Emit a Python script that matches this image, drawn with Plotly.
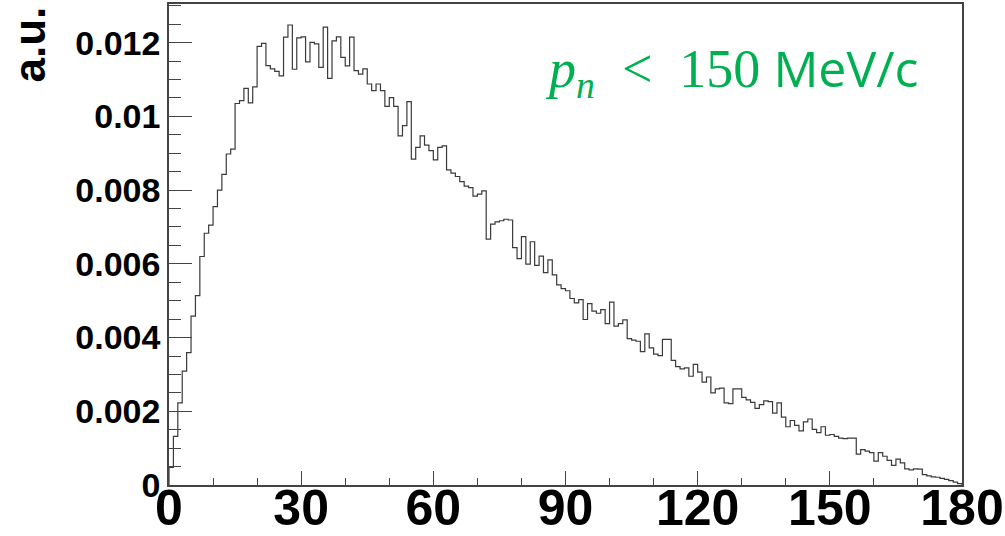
import plotly.graph_objects as go

# ---- data ----
bin_edges = list(range(0, 181))  # 1-unit bins from 0 to 180
values_milli = [
    0.48, 1.32, 2.23, 3.09, 3.59, 4.58, 5.14, 6.20, 6.83, 7.05,
    7.55, 8.00, 8.43, 8.98, 9.11, 10.35, 10.43, 10.76, 10.37, 10.80,
    11.90, 11.98, 11.38, 11.29, 11.22, 11.10, 12.15, 12.48, 11.28, 12.13,
    12.16, 11.48, 12.01, 11.97, 11.33, 12.42, 11.03, 12.05, 12.16, 11.60,
    11.37, 12.15, 11.24, 11.15, 11.29, 10.88, 10.70, 10.88, 10.70, 10.27,
    10.51, 10.27, 9.47, 9.75, 10.40, 8.84, 9.16, 9.47, 9.22, 9.07,
    8.82, 9.16, 9.20, 8.55, 8.46, 8.37, 8.23, 8.11, 8.07, 7.84,
    7.89, 7.98, 6.67, 7.08, 7.14, 7.17, 7.21, 7.19, 6.44, 6.14,
    6.74, 5.99, 6.60, 5.96, 6.21, 5.76, 6.11, 5.70, 5.43, 5.33,
    5.27, 5.06, 4.94, 5.03, 4.49, 4.92, 4.72, 4.66, 4.76, 4.38,
    4.96, 4.31, 4.38, 4.48, 3.97, 3.93, 3.90, 3.62, 4.10, 3.72,
    3.55, 3.51, 3.95, 3.95, 3.38, 3.21, 3.15, 3.18, 2.95, 3.27,
    3.06, 2.79, 2.93, 2.50, 2.61, 2.63, 2.23, 2.21, 2.61, 2.61,
    2.38, 2.31, 2.24, 2.08, 2.18, 2.28, 2.26, 1.95, 2.23, 1.84,
    1.58, 1.75, 1.62, 1.47, 1.71, 1.79, 1.51, 1.42, 1.58, 1.35,
    1.37, 1.32, 1.27, 1.26, 1.27, 1.27, 0.84, 0.96, 0.92, 0.88,
    0.65, 0.88, 0.78, 0.67, 0.53, 0.70, 0.60, 0.44, 0.41, 0.44,
    0.43, 0.28, 0.25, 0.22, 0.21, 0.18, 0.15, 0.12, 0.08, 0.04,
]
values = [v * 1e-3 for v in values_milli]

x_tick_vals = [0, 30, 60, 90, 120, 150, 180]
x_tick_text = ["0", "30", "60", "90", "120", "150", "180"]
y_tick_vals = [0, 0.002, 0.004, 0.006, 0.008, 0.010, 0.012]
y_tick_text = ["0", "0.002", "0.004", "0.006", "0.008", "0.01", "0.012"]

y_title = "a.u."
label_html = ('<span style="font-family:\'Liberation Serif\';font-size:54px"><i>p</i><sub><i>n</i></sub>'
              '  &lt;  150</span>'
              ' <span style="font-family:\'Open Sans\';font-size:50px">MeV/c</span>')

# ---- step outline of the histogram ----
step_x = [bin_edges[0]] + bin_edges[:-1] + [bin_edges[-1], bin_edges[-1]]
step_y = [0] + values + [values[-1], 0]

fig = go.Figure()
fig.add_trace(go.Scatter(
    x=step_x, y=step_y, mode="lines", line=dict(shape="hv", color="#3a3a3a", width=1.2),
    showlegend=False, hoverinfo="skip",
))

axis_font = "Liberation Sans, Arial, sans-serif"
fig.update_layout(
    width=1005, height=536,
    margin=dict(l=169, r=43, t=4, b=51, autoexpand=False),
    paper_bgcolor="white", plot_bgcolor="white",
    xaxis=dict(
        range=[0, 180], showgrid=False, zeroline=False, automargin=False,
        showline=True, mirror=True, linecolor="#444", linewidth=1.5,
        ticks="inside", ticklen=14, tickwidth=1, tickcolor="#444",
        tickvals=x_tick_vals, ticktext=x_tick_text, ticklabeloverflow="allow",
        ticklabelstandoff=-22,
        tickfont=dict(family=axis_font, size=50, color="black", weight="bold"),
        minor=dict(ticks="inside", ticklen=7, dtick=10, tickcolor="#444", tickwidth=1, showgrid=False),
    ),
    yaxis=dict(
        range=[0, 0.01305], showgrid=False, zeroline=False, automargin=False,
        showline=True, mirror=True, linecolor="#444", linewidth=1.5,
        ticks="inside", ticklen=23, tickwidth=1, tickcolor="#444",
        tickvals=y_tick_vals, ticktext=y_tick_text, ticklabeloverflow="allow",
        tickfont=dict(family=axis_font, size=34, color="black", weight="bold"),
        minor=dict(ticks="inside", ticklen=12, dtick=0.0005, tickcolor="#444", tickwidth=1, showgrid=False),
    ),
    annotations=[
        dict(text=y_title, xref="paper", yref="paper", x=(29 - 169) / 793, y=(485 - 44.5) / 481,
             xanchor="center", yanchor="middle", textangle=-90, showarrow=False,
             font=dict(family=axis_font, size=44, color="black", weight="bold")),
        dict(text=label_html, xref="paper", yref="paper", x=(543 - 169) / 793, y=(485 - 70) / 481,
             xanchor="left", yanchor="middle", showarrow=False,
             font=dict(size=50, color="#00B050")),
    ],
)

fig.write_html("out.html")
